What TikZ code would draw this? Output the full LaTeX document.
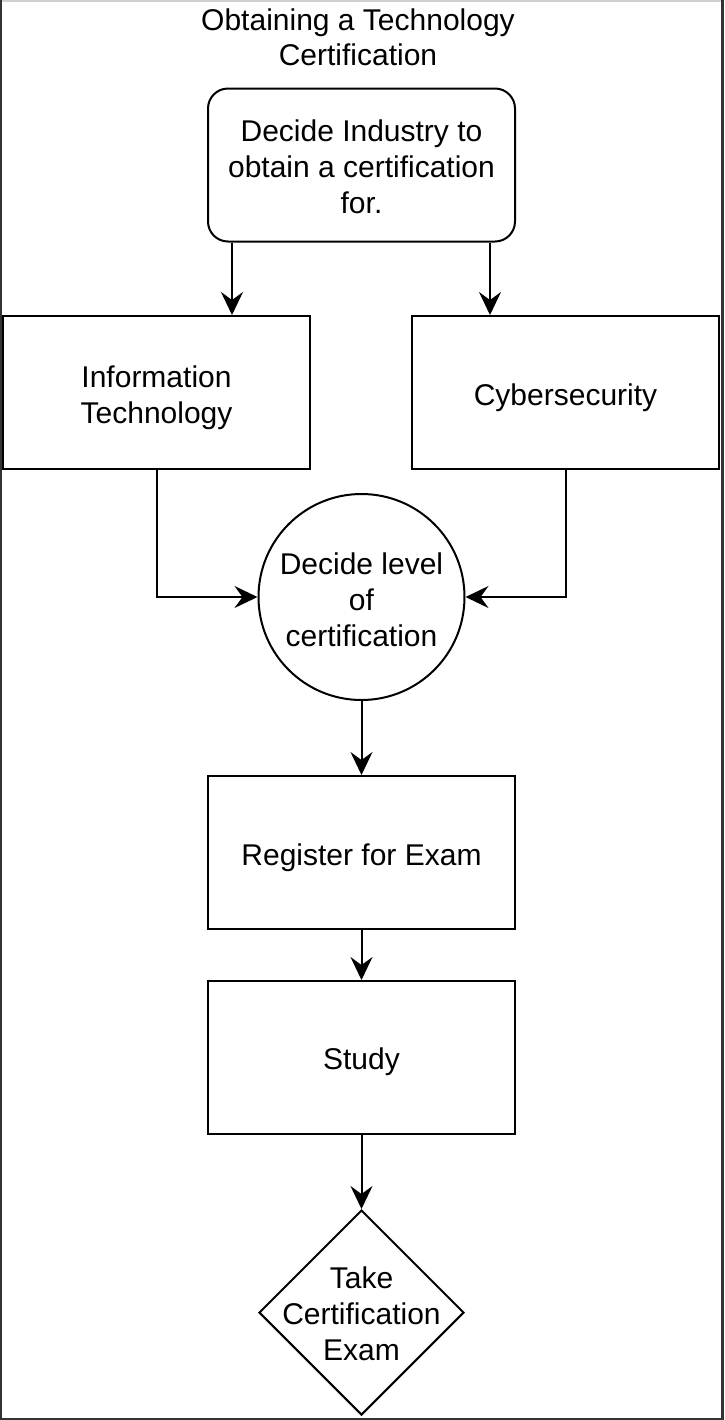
\documentclass[tikz,border=0pt]{standalone}
\usepackage{fontspec}
\setmainfont{Liberation Sans}
\usetikzlibrary{arrows.meta,shapes.geometric,calc}
\definecolor{framegray}{HTML}{333333}
\definecolor{toplight}{HTML}{D0D0D0}
\newcommand\liftby[1]{\rule{0pt}{#1}}
\begin{document}
\begin{tikzpicture}[x=0.5pt,y=-0.5pt,
  txt/.style={font=\fontsize{15}{18}\selectfont, align=center, inner sep=0pt},
  box/.style={txt, draw, line width=1pt, minimum width=153.5pt, minimum height=76.5pt},
  rbox/.style={box, rounded corners=10pt},
  lvlcircle/.style={txt, draw, line width=1pt, circle, minimum size=103pt},
  decision/.style={draw, line width=1pt, diamond, aspect=1, minimum width=102.5pt, minimum height=102.5pt, inner sep=0pt},
  arr/.style={line width=1pt, -{Stealth[length=11.5pt,width=11pt,inset=4pt]}}
]
\useasboundingbox (0,0) rectangle (724,1420);
\fill[white] (0,0) rectangle (724,1420);
% frame
\fill[toplight] (0,0) rectangle (724,1.5);
\fill[framegray] (0,0) rectangle (2,1420);
\fill[framegray] (721,0) rectangle (724,1420);
\fill[framegray] (0,1417.5) rectangle (724,1420);

\node[txt, font=\fontsize{15}{17.5}\selectfont] (title) at (358,37) {Obtaining a Technology\\Certification};
\node[rbox] (top) at (361.5,165) {\liftby{13pt}Decide Industry to\\obtain a certification\\for.};
\node[box] (it) at (156.5,392.5) {\liftby{16pt}Information\\Technology};
\node[box] (cy) at (565.5,392.5) {\liftby{16pt}Cybersecurity};
\node[lvlcircle] (lvl) at (361.5,597) {\liftby{14pt}Decide level\\of\\certification};
\node[box] (reg) at (361.5,852.5) {\liftby{16pt}Register for Exam};
\node[box] (study) at (361.5,1057.5) {\liftby{15pt}Study};
\node[decision] (exam) at (361.5,1312.5) {};
\node[txt] (examtext) at (exam.center) {\liftby{12.5pt}Take\\Certification\\Exam};

\coordinate (t1) at ($(top.south west)+(25,0)$);
\coordinate (t2) at ($(top.south east)+(-26,0)$);
\draw[arr] (t1) -- (t1 |- it.north);
\draw[arr] (t2) -- (t2 |- cy.north);
\draw[arr] (it.south) |- (lvl.west);
\draw[arr] (cy.south) |- (lvl.east);
\draw[arr] (lvl.south) -- (reg.north);
\draw[arr] (reg.south) -- (study.north);
\draw[arr] (study.south) -- (exam.north);
\end{tikzpicture}
\end{document}
